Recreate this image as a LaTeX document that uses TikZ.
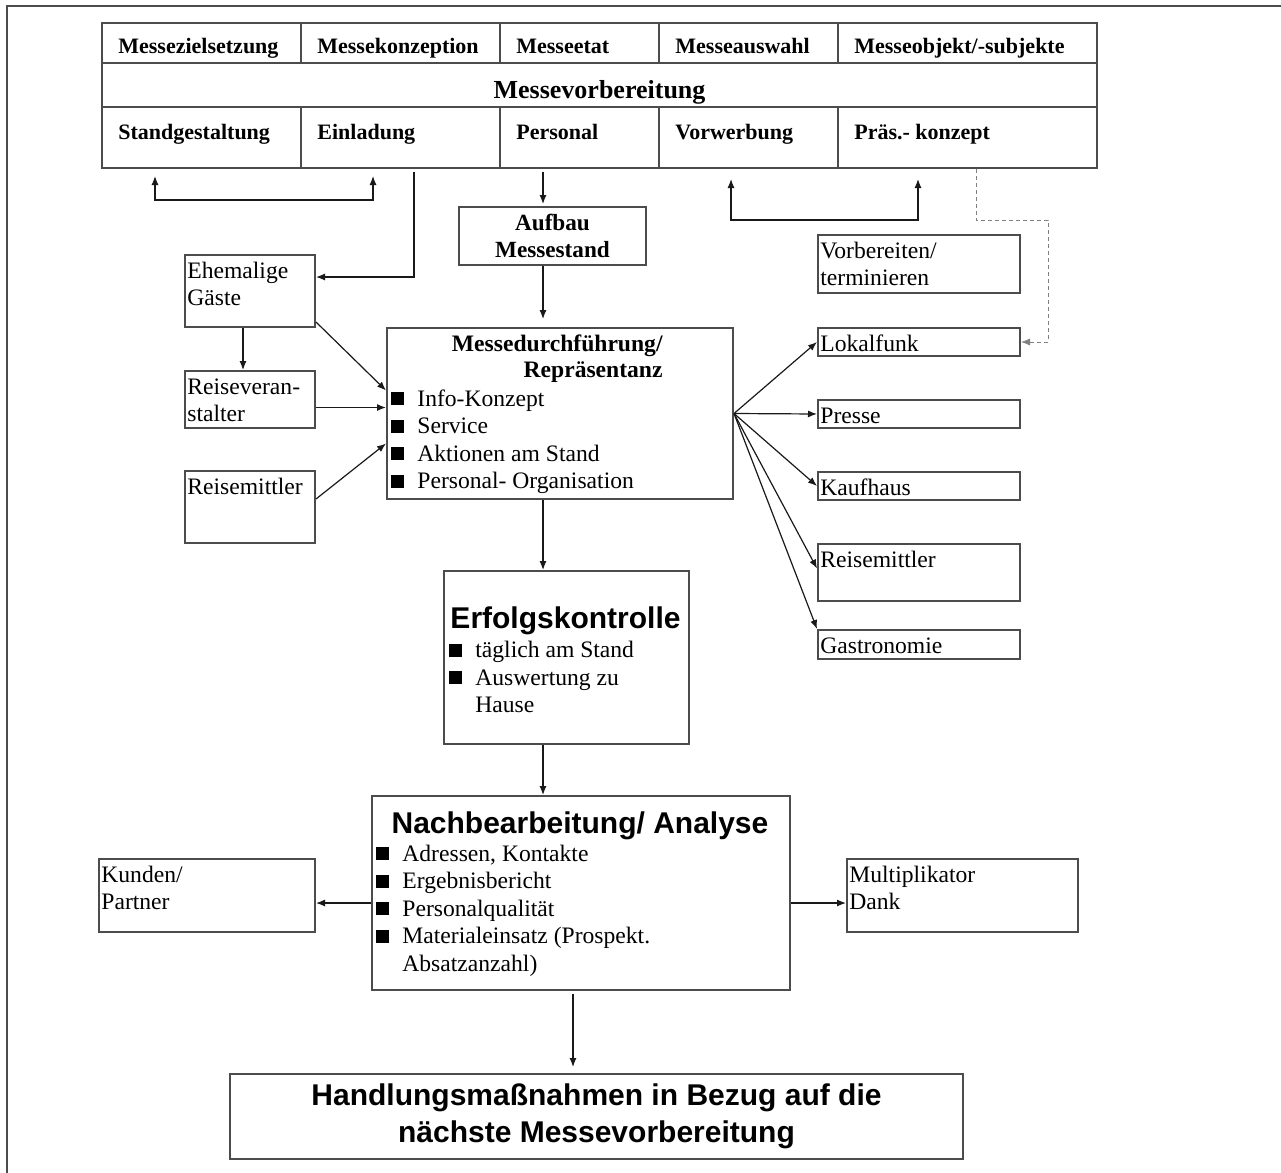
\documentclass[tikz,border=0pt]{standalone}
\usepackage{fontspec}
\setmainfont{Liberation Serif}
\setsansfont{Liberation Sans}
\usetikzlibrary{arrows.meta}

\definecolor{frame}{gray}{0.3}
\definecolor{ink}{gray}{0.1}

\newcommand{\sqb}{\rule[0.5pt]{6.5pt}{6.5pt}\hspace{6.5pt}}
\newcommand{\sqgap}{\hspace{13pt}}

\tikzset{
  box/.style={draw=frame, line width=1pt, anchor=north west, inner sep=0pt},
  lbl/.style={anchor=base west, xshift=1.5pt, yshift=-12pt, inner sep=0pt, align=left,
    font=\fontsize{11.8pt}{13.5pt}\selectfont},
  lblTwo/.style={anchor=base west, xshift=1.5pt, yshift=-25.5pt, inner sep=0pt, align=left,
    font=\fontsize{11.8pt}{13.5pt}\selectfont},
  lblT/.style={anchor=base west, xshift=8.5pt, yshift=-15.5pt, inner sep=0pt,
    font=\fontsize{11pt}{13pt}\selectfont\bfseries},
  lblB/.style={anchor=base west, xshift=8.5pt, yshift=-16.5pt, inner sep=0pt,
    font=\fontsize{11pt}{13pt}\selectfont\bfseries},
  lblM/.style={anchor=base, yshift=-3.5pt, inner sep=0pt,
    font=\fontsize{13pt}{15pt}\selectfont\bfseries},
  lst/.style={anchor=base west, inner sep=0pt, align=left,
    font=\fontsize{11.8pt}{13.75pt}\selectfont},
  hdS/.style={anchor=base east, inner sep=0pt, align=right,
    font=\fontsize{11.8pt}{13pt}\selectfont\bfseries},
  hdA/.style={anchor=base, inner sep=0pt, font=\fontsize{15pt}{18pt}\selectfont\sffamily\bfseries},
  arr/.style={draw=ink, line width=0.6pt, -{Latex[length=4.5pt,width=3.5pt]}},
  arr2/.style={draw=ink, line width=0.6pt, {Latex[length=4.5pt,width=3.5pt]}-{Latex[length=4.5pt,width=3.5pt]}},
  dsh/.style={arr, draw=gray, line width=0.4pt, dash pattern=on 2pt off 1.5pt}
}

\begin{document}
\begin{tikzpicture}[x=0.5pt,y=-0.5pt]
\useasboundingbox (0,0) rectangle (1281,1173);
% frame
\draw[draw=frame, line width=1pt] (1281,6) -- (7,6) -- (7,1173);

% Messevorbereitung table
\node[box, minimum width=99.5pt, minimum height=20pt, label={[lblT]north west:Messezielsetzung}] (zs) at (101,22) {};
\node[box, minimum width=99.5pt, minimum height=20pt, label={[lblT]north west:Messekonzeption}] (ko) at (300,22) {};
\node[box, minimum width=79.5pt, minimum height=20pt, label={[lblT]north west:Messeetat}] (et) at (499,22) {};
\node[box, minimum width=89.5pt, minimum height=20pt, label={[lblT]north west:Messeauswahl}] (aw) at (658,22) {};
\node[box, minimum width=129.5pt, minimum height=20pt, label={[lblT]north west:Messeobjekt/-subjekte}] (ob) at (837,22) {};
\node[box, minimum width=497.5pt, minimum height=22pt, label={[lblM]center:Messevorbereitung}] (mv) at (101,62) {};
\node[box, minimum width=99.5pt, minimum height=30.5pt, label={[lblB]north west:Standgestaltung}] (sg) at (101,106) {};
\node[box, minimum width=99.5pt, minimum height=30.5pt, label={[lblB]north west:Einladung}] (ei) at (300,106) {};
\node[box, minimum width=79.5pt, minimum height=30.5pt, label={[lblB]north west:Personal}] (pe) at (499,106) {};
\node[box, minimum width=89.5pt, minimum height=30.5pt, label={[lblB]north west:Vorwerbung}] (vw) at (658,106) {};
\node[box, minimum width=129.5pt, minimum height=30.5pt, label={[lblB]north west:Präs.- konzept}] (pk) at (837,106) {};

\node[box, minimum width=93.5pt, minimum height=29pt, align=center,
  font=\fontsize{11.6pt}{13.5pt}\selectfont\bfseries] (au) at (458,206) {Aufbau\\Messestand};

% left side
\node[box, minimum width=65pt, minimum height=36pt, label={[lblTwo]north west:{Ehemalige\\Gäste}}] (eg) at (184,254) {};
\node[box, minimum width=65pt, minimum height=28.5pt, label={[lblTwo]north west:{Reiseveran-\\stalter}}] (rv) at (184,370) {};
\node[box, minimum width=65pt, minimum height=36pt, label={[lbl]north west:Reisemittler}] (rml) at (184,470) {};

% Messedurchfuehrung
\node[box, minimum width=173pt, minimum height=85.5pt] (md) at (386,327) {};
\node[hdS] (mdHead) at ([shift={(277,50)}]md.north west) {Messedurchführung/\\Repräsentanz};
\node[lst] (mdList) at ([shift={(5,161.5)}]md.north west)
  {\sqb Info-Konzept\\\sqb Service\\\sqb Aktionen am Stand\\\sqb Personal- Organisation};

% right side
\node[box, minimum width=101pt, minimum height=29pt, label={[lblTwo]north west:{Vorbereiten/\\terminieren}}] (vt) at (817,234) {};
\node[box, minimum width=101pt, minimum height=14pt, label={[lbl]north west:Lokalfunk}] (lk) at (817,327) {};
\node[box, minimum width=101pt, minimum height=14pt, label={[lbl]north west:Presse}] (pr) at (817,399) {};
\node[box, minimum width=101pt, minimum height=14pt, label={[lbl]north west:Kaufhaus}] (kh) at (817,471) {};
\node[box, minimum width=101pt, minimum height=28.5pt, label={[lbl]north west:Reisemittler}] (rmr) at (817,543) {};
\node[box, minimum width=101pt, minimum height=14.5pt, label={[lbl]north west:Gastronomie}] (ga) at (817,629) {};

% Erfolgskontrolle
\node[box, minimum width=122.5pt, minimum height=86.5pt] (ek) at (443,570) {};
\node[hdA] (ekHead) at ([shift={(122.5,58)}]ek.north west) {Erfolgskontrolle};
\node[lst] (ekList) at ([shift={(6,142.5)}]ek.north west)
  {\sqb täglich am Stand\\\sqb Auswertung zu\\\sqgap Hause};

% Nachbearbeitung
\node[box, minimum width=209pt, minimum height=97pt] (na) at (371,795) {};
\node[hdA] (naHead) at ([shift={(209,38)}]na.north west) {Nachbearbeitung/ Analyse};
\node[lst] (naList) at ([shift={(5,176)}]na.north west)
  {\sqb Adressen, Kontakte\\\sqb Ergebnisbericht\\\sqb Personalqualität\\\sqb Materialeinsatz (Prospekt.\\\sqgap Absatzanzahl)};

\node[box, minimum width=108pt, minimum height=36.5pt, label={[lblTwo]north west:{Kunden/\\Partner}}] (ku) at (98,858) {};
\node[box, minimum width=115.5pt, minimum height=36.5pt, label={[lblTwo]north west:{Multiplikator\\Dank}}] (mu) at (846,858) {};

\node[box, minimum width=366.5pt, minimum height=42.5pt, align=center,
  font=\fontsize{15pt}{18.5pt}\selectfont\sffamily\bfseries] (hm) at (229,1073)
  {Handlungsmaßnahmen in Bezug auf die\\nächste Messevorbereitung};

% connectors top
\coordinate (lpL) at (155,200);
\coordinate (lpR) at (373,200);
\draw[arr2, shorten <=3.5pt, shorten >=3.5pt] (sg.south -| lpL) -- (lpL) -- (lpR) -- (ei.south -| lpR);
\coordinate (eiTurn) at (414,277);
\draw[arr, shorten <=1.5pt] (ei.south -| eiTurn) -- (eiTurn) -- (eg.east |- eiTurn);
\coordinate (spine) at (543,0);
\draw[arr, shorten <=1.5pt, shorten >=1pt] (pe.south -| spine) -- (au.north -| spine);
\draw[arr, shorten >=4pt] (au.south -| spine) -- (md.north -| spine);
\draw[arr] (md.south -| spine) -- (ek.north -| spine);
\draw[arr] (ek.south -| spine) -- (na.north -| spine);
\coordinate (lpL2) at (731,220);
\coordinate (lpR2) at (918,220);
\draw[arr2, shorten <=5pt, shorten >=5pt] (vw.south -| lpL2) -- (lpL2) -- (lpR2) -- (pk.south -| lpR2);
\coordinate (dA) at (976,220);
\coordinate (dB) at (1048,342);
\draw[dsh] (pk.south -| dA) -- (dA) -| (dB) -- (lk.east |- dB);

% connectors left
\draw[arr] ([xshift=-3.5pt]eg.south) -- ([xshift=-3.5pt]rv.north);
\draw[arr] ([yshift=3pt]eg.south east) -- ([yshift=11.5pt]md.west);
\draw[arr] ([yshift=-4pt]rv.east) -- ([yshift=-4pt]rv.east -| md.west);
\draw[arr] ([yshift=4pt]rml.east) -- ([yshift=-15pt]md.west);

% connectors right
\draw[arr] (md.east) -- (lk.west);
\draw[arr] (md.east) -- (pr.west);
\draw[arr] (md.east) -- (kh.west);
\draw[arr] (md.east) -- ([yshift=2pt]rmr.west);
\draw[arr] (md.east) -- (ga.north west);

% connectors bottom
\draw[arr] ([yshift=-5pt]na.west) -- ([yshift=-5pt]na.west -| ku.east);
\draw[arr] ([yshift=-5pt]na.east) -- ([yshift=-5pt]na.east -| mu.west);
\coordinate (spine2) at (573,0);
\draw[arr, shorten <=1.5pt, shorten >=3pt] (na.south -| spine2) -- (hm.north -| spine2);
\end{tikzpicture}
\end{document}
